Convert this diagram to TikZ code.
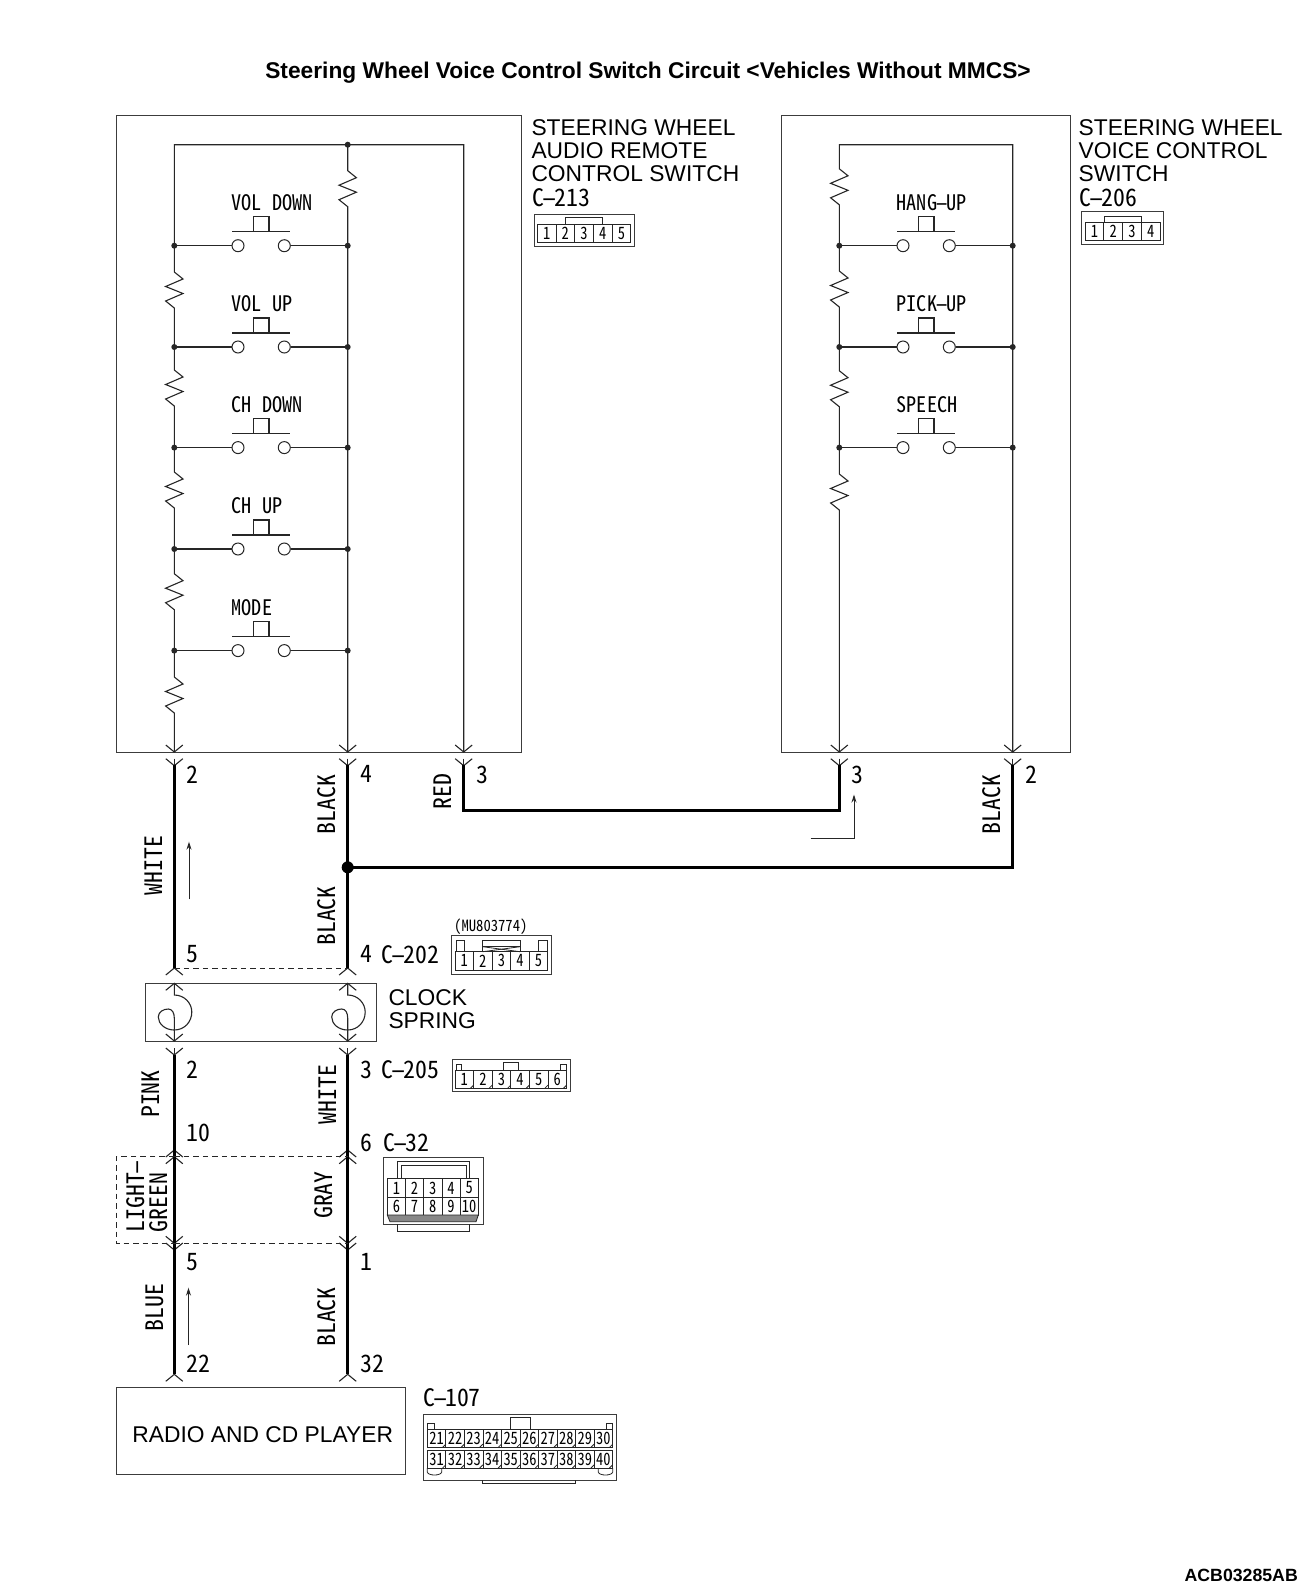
\documentclass[tikz,border=0pt]{standalone}
\usepackage{fontspec}
\usepackage{graphicx}
\setmainfont{Liberation Sans}
\newfontfamily\gl[FakeStretch=0.99,RawFeature=+hwid]{Noto Sans CJK JP}
\newfontfamily\gls[FakeStretch=0.945,RawFeature=+hwid]{Noto Sans CJK JP}
\newfontfamily\glc[FakeStretch=0.85,RawFeature=+hwid]{Noto Sans CJK JP}
\usetikzlibrary{arrows.meta}
\definecolor{lnc}{HTML}{262626}
\newcommand\hy{\makebox[.42em][c]{\scalebox{1.7}[1]{-}}}
\newcommand\zz[2]{-- (#1,#2-18) -- (#1+8.7,#2-11) -- (#1-8.7,#2-3.5) -- (#1+8.7,#2+3.5) -- (#1-8.7,#2+11) -- (#1,#2+18)}
\newcommand\chv[3]{\draw[thin line] (#1-8.5,#2-#3*7) -- (#1,#2) -- (#1+8.5,#2-#3*7);}
\newcommand\stub[3]{\draw[thin line] (#1,#2-#3*7) -- (#1,#2);}
\newcommand\dotat[2]{\fill[lnc] (#1,#2) circle (3);}
% name, circle-left x, y, label, wire-left x, wire-right x
\newcommand\pushsw[6]{%
  \node[swlabel] (#1-lab) at (#2-6.5,#3-43.4) {#4};
  \node[swpin] (#1-a) at (#2,#3) {};
  \node[swpin] (#1-b) at (#2+46.3,#3) {};
  \draw[thin line] (#2-6,#3-14) -- (#2+52,#3-14);
  \draw[thin line] (#2+15.7,#3-14) rectangle (#2+31,#3-29);
  \draw[thin line] (#5,#3) -- (#1-a);
  \draw[thin line] (#1-b) -- (#6,#3);
  \dotat{#5}{#3}\dotat{#6}{#3}}
% name, x0, ytop, ybot, cell width, first number, count, font size
\newcommand\cells[8]{%
  \foreach \k in {1,...,#7}{%
    \pgfmathtruncatemacro\num{#6+\k-1}
    \draw[cell line] ({#2+(\k-1)*#5},#3) rectangle ({#2+\k*#5},#4);
    \node[inner sep=0pt,font=\glc\fontsize{#8}{#8}\selectfont] (#1-\num) at ({#2+(\k-.5)*#5},{(#3+#4)/2}) {\num};
  }}
\newcommand\ticks[5]{%
  \foreach \k in {1,...,#4}{%
    \draw[cell line] ({#1+\k*#3-3.2},#2) -- ({#1+\k*#3},#2-3.2);
  }}
\tikzset{
  thin line/.style={draw=lnc,line width=1.1pt},
  cell line/.style={draw=lnc,line width=.8pt},
  box line/.style={draw=lnc!90,line width=1pt},
  wire/.style={draw=black,line width=3pt,line cap=butt,line join=miter},
  dash line/.style={draw=lnc,line width=1pt,dash pattern=on 5.5pt off 4pt},
  swpin/.style={circle,draw=lnc,line width=1pt,fill=white,minimum size=12pt,inner sep=0pt},
  txt/.style={anchor=west,inner sep=0pt,font=\fontsize{22.8}{23}\selectfont,align=left},
  swlabel/.style={anchor=west,inner sep=0pt,font=\gls\fontsize{21.4}{22}\selectfont},
  pinlab/.style={anchor=west,inner sep=0pt,font=\gl\fontsize{24}{24}\selectfont},
  wirelab/.style={rotate=90,inner sep=0pt,font=\gl\fontsize{24}{23.3}\selectfont},
  flow/.style={draw=lnc,line width=.9pt,-{Stealth[length=8pt,width=5pt]}},
}
\begin{document}
\begin{tikzpicture}[x=1pt,y=-1pt]
\useasboundingbox (0,0) rectangle (1303,1591);
\fill[white] (0,0) rectangle (1303,1591);
% title
\node[inner sep=0pt,font=\bfseries\fontsize{22.75}{24}\selectfont] (title) at (648,73) {Steering Wheel Voice Control Switch Circuit <Vehicles Without MMCS>};
\node[inner sep=0pt,anchor=east,font=\bfseries\fontsize{17.7}{18}\selectfont] (code) at (1298,1575) {ACB03285AB};
% boxes
\draw[box line] (116,115.7) rectangle (521.7,752);
\draw[box line] (781.7,115.7) rectangle (1070.7,752);
\draw[box line] (145.3,983.3) rectangle (376.7,1041);
\draw[box line] (116.3,1387.7) rectangle (405.7,1474.7);
\node[inner sep=0pt,font=\fontsize{22.8}{23}\selectfont] (radio) at (262.7,1435) {RADIO AND CD PLAYER};
% left inner circuit
\draw[thin line] (463.7,752) -- (463.7,144.7) -- (174.3,144.7) \zz{174.3}{290} \zz{174.3}{388} \zz{174.3}{490} \zz{174.3}{591.7} \zz{174.3}{695} -- (174.3,752);
\draw[thin line] (347.7,144.7) \zz{347.7}{188.7} -- (347.7,752);
\dotat{347.7}{144.7}
\pushsw{voldn}{238}{245.7}{VOL DOWN}{174.3}{347.7}
\pushsw{volup}{238}{347}{VOL UP}{174.3}{347.7}
\pushsw{chdn}{238}{447.6}{CH DOWN}{174.3}{347.7}
\pushsw{chup}{238}{549}{CH UP}{174.3}{347.7}
\pushsw{mode}{238}{650.6}{MODE}{174.3}{347.7}
% right inner circuit
\draw[thin line] (1012.7,752) -- (1012.7,144.7) -- (839.3,144.7) \zz{839.3}{186.8} \zz{839.3}{289} \zz{839.3}{388.7} \zz{839.3}{492} -- (839.3,752);
\pushsw{hang}{903}{245.7}{HANG\hy UP}{839.3}{1012.7}
\pushsw{pick}{903}{347}{PICK\hy UP}{839.3}{1012.7}
\pushsw{speech}{903}{447.6}{SPEECH}{839.3}{1012.7}
% chevrons at the switch boxes
\foreach \x in {174.3,347.7,463.7,839.3,1012.7}{
  \chv{\x}{752}{1}\chv{\x}{765.7}{1}\stub{\x}{765.7}{1}
}
\foreach \x in {174.3,347.7}{
  \chv{\x}{968}{-1}\chv{\x}{983.3}{-1}
  \chv{\x}{1041}{1}\chv{\x}{1055}{1}\stub{\x}{1055}{1}
  \chv{\x}{1150}{-1}\chv{\x}{1156.7}{-1}
  \chv{\x}{1243.3}{1}\chv{\x}{1250}{1}
  \chv{\x}{1374.3}{-1}
  \draw[thin line] (\x,983.3) -- (\x,995) .. controls (\x+10,995) and (\x+17.5,1003) .. (\x+17.5,1012) .. controls (\x+17.5,1022) and (\x+10,1030) .. (\x,1030) .. controls (\x-9,1030) and (\x-16,1024) .. (\x-16,1017) .. controls (\x-16,1012) and (\x-11,1009) .. (\x-6,1009) .. controls (\x-2,1009) and (\x,1013) .. (\x,1018) -- (\x,1041);
  \draw[wire] (\x,765) -- (\x,968);
  \draw[wire] (\x,1055) -- (\x,1374.3);
}
% harness wires
\draw[wire] (463.7,765) -- (463.7,810) -- (839.3,810) -- (839.3,765);
\draw[wire] (347.7,867.3) -- (1012.7,867.3) -- (1012.7,765);
\fill[black] (347.7,867.3) circle (6);
% dashed shields
\draw[dash line] (174.3,968) -- (347.7,968);
\draw[dash line] (174.3,1156.7) -- (116.3,1156.7) -- (116.3,1243.3) -- (174.3,1243.3);
\draw[dash line] (174.3,1156.7) -- (347.7,1156.7);
\draw[dash line] (174.3,1243.3) -- (347.7,1243.3);
% flow arrows
\draw[flow] (189,899.3) -- (189,841.7);
\draw[flow] (188.5,1345) -- (188.5,1287.7);
\draw[flow] (810.7,838.7) -- (854,838.7) -- (854,794.5);
% pin labels
\node[pinlab] (p1) at (186.7,774.3) {2};
\node[pinlab] (p2) at (360,774.3) {4};
\node[pinlab] (p3) at (476,775) {3};
\node[pinlab] (p4) at (851.7,775) {3};
\node[pinlab] (p5) at (1025,775) {2};
\node[pinlab] (p6) at (186.7,954.3) {5};
\node[pinlab] (p7) at (360,954.3) {4};
\node[pinlab] (p8) at (186.7,1070) {2};
\node[pinlab] (p9) at (360,1070) {3};
\node[pinlab] (p10) at (186.7,1133) {10};
\node[pinlab] (p11) at (360,1142.7) {6};
\node[pinlab] (p12) at (186.7,1261.7) {5};
\node[pinlab] (p13) at (360,1262) {1};
\node[pinlab] (p14) at (186.7,1364) {22};
\node[pinlab] (p15) at (360,1364) {32};
% wire colour labels
\node[wirelab] (w1) at (153.3,865.5) {WHITE};
\node[wirelab] (w2) at (326.7,804.8) {BLACK};
\node[wirelab] (w3) at (326.7,916) {BLACK};
\node[wirelab] (w4) at (442.3,791.5) {RED};
\node[wirelab] (w5) at (991.7,804.8) {BLACK};
\node[wirelab] (w6) at (150.7,1094) {PINK};
\node[wirelab] (w7) at (327.7,1094.5) {WHITE};
\node[wirelab] (w8) at (324,1195) {GRAY};
\node[wirelab,anchor=north west,align=left] (w9) at (126,1232.5) {LIGHT\hy\\GREEN};
\node[wirelab] (w10) at (154.4,1307.5) {BLUE};
\node[wirelab] (w11) at (327,1317) {BLACK};
% component labels
\node[txt] (t1) at (531.3,127.7) {STEERING WHEEL};
\node[txt] (t2) at (531.3,150.3) {AUDIO REMOTE};
\node[txt] (t3) at (531.3,173.3) {CONTROL SWITCH};
\node[pinlab] (t4) at (532.3,197.7) {C\hy 213};
\node[txt] (t5) at (1078.5,127.7) {STEERING WHEEL};
\node[txt] (t6) at (1078.5,150.3) {VOICE CONTROL};
\node[txt] (t7) at (1078.5,173.3) {SWITCH};
\node[pinlab] (t8) at (1079.3,197.7) {C\hy 206};
\node[txt] (t9) at (388.3,997.7) {CLOCK};
\node[txt] (t10) at (388.3,1020.3) {SPRING};
\node[pinlab] (t11) at (381.7,954.3) {C\hy 202};
\node[pinlab] (t12) at (381.7,1070) {C\hy 205};
\node[pinlab] (t13) at (383,1142.7) {C\hy 32};
\node[pinlab] (t14) at (423,1398) {C\hy 107};
\node[anchor=west,inner sep=0pt,font=\gls\fontsize{15.5}{16}\selectfont] (t15) at (454,926.7) {(MU803774)};
% C-213
\draw[box line] (534,214) rectangle (634,246);
\cells{a}{537.3}{224.3}{242}{18.7}{1}{5}{17}
\draw[cell line] (565.7,224.3) -- (565.7,217.3) -- (602.7,217.3) -- (602.7,224.3);
% C-206
\draw[box line] (1081.7,211.7) rectangle (1163.3,244);
\cells{b}{1085}{222.3}{240.7}{18.75}{1}{4}{17}
\draw[cell line] (1104,222.3) -- (1104,216.7) -- (1141,216.7) -- (1141,222.3);
% C-202
\draw[box line] (451,935.7) rectangle (551.3,974);
\cells{c}{455}{951.7}{970}{18.55}{1}{5}{17}
\draw[cell line] (456,951.7) -- (456,940) -- (464.3,940) -- (464.3,951.7);
\draw[cell line] (538.7,951.7) -- (538.7,940) -- (547,940) -- (547,951.7);
\draw[cell line] (482.7,951.7) -- (482.7,940) -- (520,940) -- (520,951.7);
\draw[cell line] (482.7,946.7) -- (520,946.7);
\draw[cell line] (482.7,951.7) -- (520,946.7);
\draw[cell line] (482.7,946.7) -- (520,951.7);
% C-205
\draw[box line] (452,1059.3) rectangle (570,1091.7);
\cells{d}{455}{1070}{1088.3}{18.6}{1}{6}{17}
\ticks{455}{1088.3}{18.6}{6}{}
\draw[cell line] (456,1070) -- (456,1064.3) -- (461.7,1064.3) -- (461.7,1070);
\draw[cell line] (560.7,1070) -- (560.7,1064.3) -- (566.7,1064.3) -- (566.7,1070);
\draw[cell line] (503.3,1070) -- (503.3,1062.7) -- (518.3,1062.7) -- (518.3,1070);
% C-32
\draw[box line] (383.3,1157.7) rectangle (483.3,1224);
\draw[cell line] (397.7,1224) -- (397.7,1231.7) -- (469.3,1231.7) -- (469.3,1224);
\draw[cell line] (397.7,1178.3) -- (397.7,1161.7) -- (469.3,1161.7) -- (469.3,1178.3);
\draw[cell line] (401,1178.3) -- (401,1165) -- (466,1165) -- (466,1178.3);
\cells{e}{387.3}{1178.3}{1197.7}{18.2}{1}{5}{17}
\cells{e}{387.3}{1197.7}{1215}{18.2}{6}{5}{17}
\fill[lnc!55,draw=lnc,line width=.8pt] (387.3,1215) -- (478.3,1215) -- (476,1221.7) -- (390,1221.7) -- cycle;
% C-107
\draw[box line] (423.3,1414.3) rectangle (616.7,1480);
\draw[cell line] (482.7,1480) -- (482.7,1483.3) -- (575.7,1483.3) -- (575.7,1480);
\draw[cell line] (510,1429.3) -- (510,1417.7) -- (530,1417.7) -- (530,1429.3);
\draw[cell line] (427.3,1429.3) -- (427.3,1423) -- (434,1423) -- (434,1429.3);
\draw[cell line] (606,1429.3) -- (606,1423) -- (612.7,1423) -- (612.7,1429.3);
\draw[cell line] (427.3,1468) -- (427.3,1472) .. controls (428,1476) and (441,1476) .. (441.7,1472) -- (441.7,1468);
\draw[cell line] (598.3,1468) -- (598.3,1472) .. controls (599,1476) and (612,1476) .. (612.7,1472) -- (612.7,1468);
\cells{f}{427.3}{1429.3}{1447.3}{18.54}{21}{10}{17}
\cells{f}{427.3}{1450}{1468}{18.54}{31}{10}{17}
\ticks{427.3}{1447.3}{18.54}{10}{}
\ticks{427.3}{1468}{18.54}{10}{}
\end{tikzpicture}
\end{document}
